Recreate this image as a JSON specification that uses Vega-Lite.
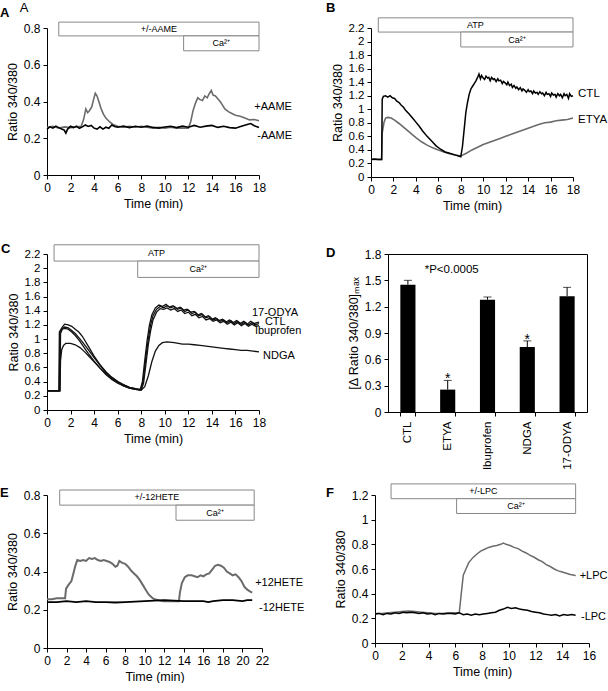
{
"$schema": "https://vega.github.io/schema/vega-lite/v6.json",
"padding": {"left": 0, "top": 2, "right": 0, "bottom": 0},
"config": {
 "font": "Liberation Sans",
 "view": {"stroke": null},
 "axis": {"labelFont": "Liberation Sans", "labelFontSize": 12, "titleFont": "Liberation Sans", "titleFontSize": 12.5, "titleFontWeight": "normal", "labelColor": "#000", "titleColor": "#000", "domainColor": "#000", "tickColor": "#000", "grid": false, "tickSize": 4, "labelPadding": 3, "titlePadding": 4, "labelFlush": false, "labelOverlap": false},
 "title": {"font": "Liberation Sans", "fontSize": 13, "anchor": "start", "frame": "group", "color": "#000"},
 "text": {"font": "Liberation Sans", "color": "#000"}
},
"datasets": {
 "A_box": [{"t":1,"t2":18,"v":0.832,"v2":0.757},{"t":11.6,"t2":18,"v":0.757,"v2":0.676}],
 "A_boxtxt": [{"t":9.5,"v":0.795,"txt":"+/-AAME"},{"t":14.8,"v":0.716,"txt":"Ca²⁺"}],
 "A_lab": [{"t":17.6,"v":0.37,"lab":"+AAME"},{"t":17.85,"v":0.21,"lab":"-AAME"}],
 "A_sub": [{"t":0,"v":0.8,"lab":"A"}],
 "A_minus": [{"t":0,"v":0.25},{"t":0.25,"v":0.262},{"t":0.5,"v":0.255},{"t":0.75,"v":0.266},{"t":1,"v":0.258},{"t":1.25,"v":0.25},{"t":1.45,"v":0.245},{"t":1.6,"v":0.228},{"t":1.75,"v":0.25},{"t":2,"v":0.265},{"t":2.25,"v":0.258},{"t":2.5,"v":0.266},{"t":2.75,"v":0.254},{"t":3,"v":0.262},{"t":3.25,"v":0.272},{"t":3.5,"v":0.264},{"t":3.75,"v":0.27},{"t":4,"v":0.255},{"t":4.25,"v":0.25},{"t":4.5,"v":0.262},{"t":4.75,"v":0.25},{"t":5,"v":0.26},{"t":5.25,"v":0.254},{"t":5.5,"v":0.272},{"t":5.75,"v":0.264},{"t":6,"v":0.26},{"t":6.5,"v":0.266},{"t":7,"v":0.258},{"t":7.5,"v":0.265},{"t":8,"v":0.26},{"t":8.5,"v":0.266},{"t":9,"v":0.259},{"t":9.5,"v":0.255},{"t":10,"v":0.261},{"t":10.5,"v":0.265},{"t":11,"v":0.258},{"t":11.5,"v":0.266},{"t":12,"v":0.26},{"t":12.5,"v":0.27},{"t":13,"v":0.26},{"t":13.5,"v":0.266},{"t":14,"v":0.27},{"t":14.5,"v":0.259},{"t":15,"v":0.265},{"t":15.5,"v":0.258},{"t":16,"v":0.255},{"t":16.5,"v":0.265},{"t":17,"v":0.275},{"t":17.3,"v":0.28},{"t":17.6,"v":0.268},{"t":18,"v":0.258}],
 "A_plus": [{"t":0,"v":0.26},{"t":0.5,"v":0.265},{"t":1,"v":0.255},{"t":1.5,"v":0.262},{"t":2,"v":0.258},{"t":2.5,"v":0.262},{"t":2.9,"v":0.265},{"t":3.1,"v":0.3},{"t":3.3,"v":0.36},{"t":3.45,"v":0.34},{"t":3.6,"v":0.35},{"t":3.8,"v":0.37},{"t":3.95,"v":0.41},{"t":4.1,"v":0.445},{"t":4.25,"v":0.43},{"t":4.4,"v":0.4},{"t":4.6,"v":0.36},{"t":4.8,"v":0.33},{"t":5,"v":0.31},{"t":5.3,"v":0.29},{"t":5.6,"v":0.275},{"t":6,"v":0.265},{"t":6.5,"v":0.26},{"t":7,"v":0.265},{"t":7.5,"v":0.26},{"t":8,"v":0.265},{"t":8.5,"v":0.26},{"t":9,"v":0.255},{"t":9.5,"v":0.26},{"t":10,"v":0.255},{"t":10.5,"v":0.26},{"t":11,"v":0.255},{"t":11.5,"v":0.256},{"t":12,"v":0.255},{"t":12.2,"v":0.29},{"t":12.4,"v":0.35},{"t":12.6,"v":0.39},{"t":12.8,"v":0.42},{"t":13,"v":0.41},{"t":13.2,"v":0.405},{"t":13.4,"v":0.43},{"t":13.6,"v":0.42},{"t":13.8,"v":0.445},{"t":13.95,"v":0.46},{"t":14.1,"v":0.435},{"t":14.3,"v":0.43},{"t":14.5,"v":0.415},{"t":14.7,"v":0.4},{"t":14.9,"v":0.38},{"t":15.1,"v":0.36},{"t":15.4,"v":0.345},{"t":15.7,"v":0.335},{"t":16,"v":0.325},{"t":16.4,"v":0.32},{"t":16.8,"v":0.31},{"t":17.2,"v":0.3},{"t":17.6,"v":0.302},{"t":18,"v":0.295}],
 "B_box": [{"t":0.65,"t2":18,"v":2.35,"v2":2.14},{"t":8,"t2":18,"v":2.14,"v2":1.92}],
 "B_boxtxt": [{"t":9.3,"v":2.245,"txt":"ATP"},{"t":13,"v":2.03,"txt":"Ca²⁺"}],
 "B_lab": [{"t":18.45,"v":1.23,"lab":"CTL"},{"t":18.45,"v":0.84,"lab":"ETYA"}],
 "B_ctl": [{"t":0,"v":0.26},{"t":0.3,"v":0.265},{"t":0.6,"v":0.26},{"t":0.95,"v":0.26},{"t":1.0,"v":1.15},{"t":1.1,"v":1.19},{"t":1.3,"v":1.2},{"t":1.5,"v":1.18},{"t":1.7,"v":1.2},{"t":1.9,"v":1.17},{"t":2.1,"v":1.16},{"t":2.3,"v":1.12},{"t":2.5,"v":1.1},{"t":2.7,"v":1.06},{"t":2.9,"v":1.03},{"t":3.1,"v":0.98},{"t":3.4,"v":0.93},{"t":3.7,"v":0.87},{"t":4,"v":0.81},{"t":4.3,"v":0.75},{"t":4.6,"v":0.68},{"t":5,"v":0.6},{"t":5.4,"v":0.53},{"t":5.8,"v":0.46},{"t":6.2,"v":0.41},{"t":6.6,"v":0.37},{"t":7,"v":0.35},{"t":7.4,"v":0.33},{"t":7.8,"v":0.31},{"t":8.0,"v":0.3},{"t":8.15,"v":0.45},{"t":8.3,"v":0.7},{"t":8.45,"v":0.95},{"t":8.6,"v":1.1},{"t":8.75,"v":1.22},{"t":8.9,"v":1.3},{"t":9.05,"v":1.34},{"t":9.2,"v":1.38},{"t":9.35,"v":1.42},{"t":9.5,"v":1.47},{"t":9.62,"v":1.52},{"t":9.75,"v":1.45},{"t":9.85,"v":1.5},{"t":10.0,"v":1.46},{"t":10.12,"v":1.44},{"t":10.25,"v":1.49},{"t":10.4,"v":1.46},{"t":10.5,"v":1.47},{"t":10.62,"v":1.42},{"t":10.75,"v":1.47},{"t":10.9,"v":1.44},{"t":11.0,"v":1.45},{"t":11.15,"v":1.41},{"t":11.3,"v":1.45},{"t":11.4,"v":1.42},{"t":11.55,"v":1.43},{"t":11.7,"v":1.38},{"t":11.8,"v":1.41},{"t":11.95,"v":1.39},{"t":12.1,"v":1.36},{"t":12.2,"v":1.4},{"t":12.35,"v":1.35},{"t":12.5,"v":1.37},{"t":12.6,"v":1.32},{"t":12.75,"v":1.35},{"t":12.9,"v":1.31},{"t":13.0,"v":1.33},{"t":13.15,"v":1.29},{"t":13.3,"v":1.32},{"t":13.45,"v":1.27},{"t":13.55,"v":1.3},{"t":13.7,"v":1.28},{"t":13.85,"v":1.25},{"t":14.0,"v":1.29},{"t":14.1,"v":1.26},{"t":14.25,"v":1.27},{"t":14.4,"v":1.23},{"t":14.5,"v":1.27},{"t":14.65,"v":1.24},{"t":14.8,"v":1.25},{"t":14.9,"v":1.22},{"t":15.05,"v":1.26},{"t":15.2,"v":1.23},{"t":15.3,"v":1.24},{"t":15.45,"v":1.2},{"t":15.6,"v":1.25},{"t":15.7,"v":1.22},{"t":15.85,"v":1.23},{"t":16.0,"v":1.19},{"t":16.1,"v":1.24},{"t":16.25,"v":1.21},{"t":16.4,"v":1.22},{"t":16.5,"v":1.18},{"t":16.65,"v":1.23},{"t":16.8,"v":1.2},{"t":16.9,"v":1.22},{"t":17.05,"v":1.17},{"t":17.2,"v":1.23},{"t":17.3,"v":1.2},{"t":17.45,"v":1.22},{"t":17.6,"v":1.16},{"t":17.7,"v":1.23},{"t":17.85,"v":1.19},{"t":18,"v":1.2}],
 "B_etya": [{"t":0,"v":0.26},{"t":0.5,"v":0.26},{"t":0.95,"v":0.26},{"t":1.0,"v":0.65},{"t":1.15,"v":0.8},{"t":1.3,"v":0.87},{"t":1.5,"v":0.88},{"t":1.8,"v":0.87},{"t":2.1,"v":0.84},{"t":2.5,"v":0.79},{"t":3,"v":0.72},{"t":3.5,"v":0.65},{"t":4,"v":0.58},{"t":4.5,"v":0.52},{"t":5,"v":0.47},{"t":5.5,"v":0.43},{"t":6,"v":0.4},{"t":6.5,"v":0.37},{"t":7,"v":0.345},{"t":7.5,"v":0.325},{"t":8,"v":0.31},{"t":8.5,"v":0.35},{"t":9,"v":0.4},{"t":9.5,"v":0.44},{"t":10,"v":0.48},{"t":10.5,"v":0.51},{"t":11,"v":0.54},{"t":11.5,"v":0.57},{"t":12,"v":0.6},{"t":12.5,"v":0.63},{"t":13,"v":0.66},{"t":13.5,"v":0.69},{"t":14,"v":0.72},{"t":14.5,"v":0.75},{"t":15,"v":0.78},{"t":15.5,"v":0.8},{"t":16,"v":0.81},{"t":16.5,"v":0.83},{"t":17,"v":0.84},{"t":17.5,"v":0.85},{"t":18,"v":0.87}],
 "C_box": [{"t":0.6,"t2":18,"v":2.33,"v2":2.1},{"t":7.7,"t2":18,"v":2.1,"v2":1.87}],
 "C_boxtxt": [{"t":9.3,"v":2.215,"txt":"ATP"},{"t":12.85,"v":1.985,"txt":"Ca²⁺"}],
 "C_lab": [{"t":17.4,"v":1.37,"lab":"17-ODYA"},{"t":18.5,"v":1.24,"lab":"CTL"},{"t":17.65,"v":1.11,"lab":"Ibuprofen"},{"t":18.35,"v":0.76,"lab":"NDGA"}],
 "C_lines": [
  {"s":"CTL","t":0,"v":0.27},{"s":"CTL","t":0.5,"v":0.27},{"s":"CTL","t":1.05,"v":0.27},{"s":"CTL","t":1.1,"v":1.1},{"s":"CTL","t":1.3,"v":1.15},{"s":"CTL","t":1.5,"v":1.17},{"s":"CTL","t":1.8,"v":1.16},{"s":"CTL","t":2.1,"v":1.12},{"s":"CTL","t":2.4,"v":1.08},{"s":"CTL","t":2.7,"v":1.02},{"s":"CTL","t":3,"v":0.96},{"s":"CTL","t":3.5,"v":0.85},{"s":"CTL","t":4,"v":0.74},{"s":"CTL","t":4.5,"v":0.63},{"s":"CTL","t":5,"v":0.53},{"s":"CTL","t":5.5,"v":0.46},{"s":"CTL","t":6,"v":0.4},{"s":"CTL","t":6.5,"v":0.36},{"s":"CTL","t":7,"v":0.32},{"s":"CTL","t":7.5,"v":0.3},{"s":"CTL","t":8,"v":0.29},{"s":"CTL","t":8.2,"v":0.45},{"s":"CTL","t":8.4,"v":0.75},{"s":"CTL","t":8.6,"v":1.0},{"s":"CTL","t":8.8,"v":1.2},{"s":"CTL","t":9,"v":1.33},{"s":"CTL","t":9.3,"v":1.42},{"s":"CTL","t":9.6,"v":1.46},{"s":"CTL","t":9.9,"v":1.44},{"s":"CTL","t":10.2,"v":1.47},{"s":"CTL","t":10.5,"v":1.44},{"s":"CTL","t":10.8,"v":1.46},{"s":"CTL","t":11.1,"v":1.42},{"s":"CTL","t":11.4,"v":1.44},{"s":"CTL","t":11.7,"v":1.39},{"s":"CTL","t":12,"v":1.41},{"s":"CTL","t":12.3,"v":1.36},{"s":"CTL","t":12.6,"v":1.38},{"s":"CTL","t":12.9,"v":1.33},{"s":"CTL","t":13.2,"v":1.35},{"s":"CTL","t":13.5,"v":1.3},{"s":"CTL","t":13.8,"v":1.32},{"s":"CTL","t":14.1,"v":1.27},{"s":"CTL","t":14.4,"v":1.29},{"s":"CTL","t":14.7,"v":1.25},{"s":"CTL","t":15,"v":1.27},{"s":"CTL","t":15.3,"v":1.23},{"s":"CTL","t":15.6,"v":1.26},{"s":"CTL","t":15.9,"v":1.22},{"s":"CTL","t":16.2,"v":1.25},{"s":"CTL","t":16.5,"v":1.21},{"s":"CTL","t":16.8,"v":1.24},{"s":"CTL","t":17.1,"v":1.2},{"s":"CTL","t":17.4,"v":1.23},{"s":"CTL","t":17.7,"v":1.2},{"s":"CTL","t":18,"v":1.22},
  {"s":"17-ODYA","t":0,"v":0.27},{"s":"17-ODYA","t":1.0,"v":0.27},{"s":"17-ODYA","t":1.05,"v":1.1},{"s":"17-ODYA","t":1.3,"v":1.17},{"s":"17-ODYA","t":1.5,"v":1.21},{"s":"17-ODYA","t":1.8,"v":1.2},{"s":"17-ODYA","t":2.1,"v":1.18},{"s":"17-ODYA","t":2.4,"v":1.14},{"s":"17-ODYA","t":2.7,"v":1.1},{"s":"17-ODYA","t":3,"v":1.04},{"s":"17-ODYA","t":3.5,"v":0.9},{"s":"17-ODYA","t":4,"v":0.76},{"s":"17-ODYA","t":4.5,"v":0.64},{"s":"17-ODYA","t":5,"v":0.54},{"s":"17-ODYA","t":5.5,"v":0.46},{"s":"17-ODYA","t":6,"v":0.4},{"s":"17-ODYA","t":6.5,"v":0.35},{"s":"17-ODYA","t":7,"v":0.32},{"s":"17-ODYA","t":7.5,"v":0.3},{"s":"17-ODYA","t":7.9,"v":0.28},{"s":"17-ODYA","t":8.1,"v":0.4},{"s":"17-ODYA","t":8.3,"v":0.7},{"s":"17-ODYA","t":8.5,"v":0.98},{"s":"17-ODYA","t":8.7,"v":1.2},{"s":"17-ODYA","t":8.9,"v":1.34},{"s":"17-ODYA","t":9.2,"v":1.44},{"s":"17-ODYA","t":9.5,"v":1.48},{"s":"17-ODYA","t":9.8,"v":1.46},{"s":"17-ODYA","t":10.1,"v":1.49},{"s":"17-ODYA","t":10.4,"v":1.45},{"s":"17-ODYA","t":10.7,"v":1.47},{"s":"17-ODYA","t":11,"v":1.43},{"s":"17-ODYA","t":11.3,"v":1.45},{"s":"17-ODYA","t":11.6,"v":1.41},{"s":"17-ODYA","t":11.9,"v":1.42},{"s":"17-ODYA","t":12.2,"v":1.38},{"s":"17-ODYA","t":12.5,"v":1.39},{"s":"17-ODYA","t":12.8,"v":1.34},{"s":"17-ODYA","t":13.1,"v":1.36},{"s":"17-ODYA","t":13.4,"v":1.31},{"s":"17-ODYA","t":13.7,"v":1.33},{"s":"17-ODYA","t":14,"v":1.28},{"s":"17-ODYA","t":14.3,"v":1.3},{"s":"17-ODYA","t":14.6,"v":1.26},{"s":"17-ODYA","t":14.9,"v":1.28},{"s":"17-ODYA","t":15.2,"v":1.24},{"s":"17-ODYA","t":15.5,"v":1.27},{"s":"17-ODYA","t":15.8,"v":1.23},{"s":"17-ODYA","t":16.1,"v":1.26},{"s":"17-ODYA","t":16.4,"v":1.22},{"s":"17-ODYA","t":16.7,"v":1.25},{"s":"17-ODYA","t":17,"v":1.21},{"s":"17-ODYA","t":17.3,"v":1.25},{"s":"17-ODYA","t":17.6,"v":1.22},{"s":"17-ODYA","t":18,"v":1.24},
  {"s":"Ibuprofen","t":0,"v":0.27},{"s":"Ibuprofen","t":1.1,"v":0.27},{"s":"Ibuprofen","t":1.15,"v":1.08},{"s":"Ibuprofen","t":1.3,"v":1.14},{"s":"Ibuprofen","t":1.5,"v":1.15},{"s":"Ibuprofen","t":1.8,"v":1.14},{"s":"Ibuprofen","t":2.1,"v":1.1},{"s":"Ibuprofen","t":2.4,"v":1.05},{"s":"Ibuprofen","t":2.7,"v":0.99},{"s":"Ibuprofen","t":3,"v":0.92},{"s":"Ibuprofen","t":3.5,"v":0.8},{"s":"Ibuprofen","t":4,"v":0.69},{"s":"Ibuprofen","t":4.5,"v":0.59},{"s":"Ibuprofen","t":5,"v":0.5},{"s":"Ibuprofen","t":5.5,"v":0.43},{"s":"Ibuprofen","t":6,"v":0.38},{"s":"Ibuprofen","t":6.5,"v":0.34},{"s":"Ibuprofen","t":7,"v":0.31},{"s":"Ibuprofen","t":7.5,"v":0.29},{"s":"Ibuprofen","t":8,"v":0.28},{"s":"Ibuprofen","t":8.2,"v":0.38},{"s":"Ibuprofen","t":8.4,"v":0.65},{"s":"Ibuprofen","t":8.6,"v":0.92},{"s":"Ibuprofen","t":8.8,"v":1.12},{"s":"Ibuprofen","t":9,"v":1.27},{"s":"Ibuprofen","t":9.3,"v":1.38},{"s":"Ibuprofen","t":9.6,"v":1.43},{"s":"Ibuprofen","t":9.9,"v":1.42},{"s":"Ibuprofen","t":10.2,"v":1.44},{"s":"Ibuprofen","t":10.5,"v":1.41},{"s":"Ibuprofen","t":10.8,"v":1.43},{"s":"Ibuprofen","t":11.1,"v":1.39},{"s":"Ibuprofen","t":11.4,"v":1.41},{"s":"Ibuprofen","t":11.7,"v":1.36},{"s":"Ibuprofen","t":12,"v":1.38},{"s":"Ibuprofen","t":12.3,"v":1.33},{"s":"Ibuprofen","t":12.6,"v":1.35},{"s":"Ibuprofen","t":12.9,"v":1.3},{"s":"Ibuprofen","t":13.2,"v":1.32},{"s":"Ibuprofen","t":13.5,"v":1.27},{"s":"Ibuprofen","t":13.8,"v":1.29},{"s":"Ibuprofen","t":14.1,"v":1.25},{"s":"Ibuprofen","t":14.4,"v":1.27},{"s":"Ibuprofen","t":14.7,"v":1.23},{"s":"Ibuprofen","t":15,"v":1.25},{"s":"Ibuprofen","t":15.3,"v":1.21},{"s":"Ibuprofen","t":15.6,"v":1.24},{"s":"Ibuprofen","t":15.9,"v":1.2},{"s":"Ibuprofen","t":16.2,"v":1.23},{"s":"Ibuprofen","t":16.5,"v":1.19},{"s":"Ibuprofen","t":16.8,"v":1.22},{"s":"Ibuprofen","t":17.1,"v":1.18},{"s":"Ibuprofen","t":17.4,"v":1.21},{"s":"Ibuprofen","t":17.7,"v":1.18},{"s":"Ibuprofen","t":18,"v":1.19},
  {"s":"NDGA","t":0,"v":0.27},{"s":"NDGA","t":1.1,"v":0.27},{"s":"NDGA","t":1.15,"v":0.7},{"s":"NDGA","t":1.25,"v":0.85},{"s":"NDGA","t":1.4,"v":0.91},{"s":"NDGA","t":1.6,"v":0.94},{"s":"NDGA","t":2,"v":0.94},{"s":"NDGA","t":2.4,"v":0.92},{"s":"NDGA","t":2.8,"v":0.88},{"s":"NDGA","t":3.2,"v":0.82},{"s":"NDGA","t":3.6,"v":0.75},{"s":"NDGA","t":4,"v":0.68},{"s":"NDGA","t":4.5,"v":0.59},{"s":"NDGA","t":5,"v":0.51},{"s":"NDGA","t":5.5,"v":0.44},{"s":"NDGA","t":6,"v":0.39},{"s":"NDGA","t":6.5,"v":0.34},{"s":"NDGA","t":7,"v":0.31},{"s":"NDGA","t":7.5,"v":0.29},{"s":"NDGA","t":8,"v":0.28},{"s":"NDGA","t":8.3,"v":0.33},{"s":"NDGA","t":8.6,"v":0.48},{"s":"NDGA","t":8.9,"v":0.68},{"s":"NDGA","t":9.2,"v":0.83},{"s":"NDGA","t":9.5,"v":0.91},{"s":"NDGA","t":9.8,"v":0.95},{"s":"NDGA","t":10.2,"v":0.96},{"s":"NDGA","t":10.8,"v":0.95},{"s":"NDGA","t":11.5,"v":0.93},{"s":"NDGA","t":12,"v":0.93},{"s":"NDGA","t":12.5,"v":0.92},{"s":"NDGA","t":13,"v":0.91},{"s":"NDGA","t":13.5,"v":0.9},{"s":"NDGA","t":14,"v":0.89},{"s":"NDGA","t":14.5,"v":0.88},{"s":"NDGA","t":15,"v":0.87},{"s":"NDGA","t":15.5,"v":0.86},{"s":"NDGA","t":16,"v":0.85},{"s":"NDGA","t":16.5,"v":0.84},{"s":"NDGA","t":17,"v":0.84},{"s":"NDGA","t":17.5,"v":0.83},{"s":"NDGA","t":18,"v":0.82}
 ],
 "D": [{"g":"CTL","m":1.45,"hi":1.5,"sig":""},{"g":"ETYA","m":0.255,"hi":0.36,"sig":"*"},{"g":"Ibuprofen","m":1.28,"hi":1.31,"sig":""},{"g":"NDGA","m":0.74,"hi":0.81,"sig":"*"},{"g":"17-ODYA","m":1.32,"hi":1.42,"sig":""}],
 "D_note": [{"g":"ETYA","v":1.62,"txt":"*P<0.0005"}],
 "E_box": [{"t":1.3,"t2":21.2,"v":0.826,"v2":0.747},{"t":13.2,"t2":21.2,"v":0.747,"v2":0.668}],
 "E_boxtxt": [{"t":11.25,"v":0.787,"txt":"+/-12HETE"},{"t":17.2,"v":0.708,"txt":"Ca²⁺"}],
 "E_lab": [{"t":21.3,"v":0.34,"lab":"+12HETE"},{"t":21.7,"v":0.21,"lab":"-12HETE"}],
 "E_minus": [{"t":0,"v":0.24},{"t":1,"v":0.24},{"t":2,"v":0.245},{"t":3,"v":0.24},{"t":4,"v":0.245},{"t":5,"v":0.24},{"t":6,"v":0.24},{"t":7,"v":0.238},{"t":8,"v":0.24},{"t":9,"v":0.242},{"t":10,"v":0.245},{"t":11,"v":0.248},{"t":12,"v":0.25},{"t":13,"v":0.248},{"t":14,"v":0.245},{"t":15,"v":0.245},{"t":16,"v":0.245},{"t":16.5,"v":0.24},{"t":17,"v":0.245},{"t":18,"v":0.25},{"t":19,"v":0.25},{"t":20,"v":0.245},{"t":20.5,"v":0.25},{"t":21,"v":0.25}],
 "E_plus": [{"t":0,"v":0.255},{"t":0.5,"v":0.255},{"t":1,"v":0.26},{"t":1.5,"v":0.26},{"t":1.85,"v":0.26},{"t":1.95,"v":0.31},{"t":2.2,"v":0.33},{"t":2.5,"v":0.35},{"t":2.7,"v":0.39},{"t":2.9,"v":0.43},{"t":3.1,"v":0.46},{"t":3.4,"v":0.455},{"t":3.7,"v":0.46},{"t":4,"v":0.455},{"t":4.3,"v":0.47},{"t":4.6,"v":0.465},{"t":4.9,"v":0.47},{"t":5.2,"v":0.46},{"t":5.5,"v":0.455},{"t":5.8,"v":0.46},{"t":6.1,"v":0.455},{"t":6.4,"v":0.45},{"t":6.7,"v":0.44},{"t":7,"v":0.425},{"t":7.2,"v":0.43},{"t":7.4,"v":0.455},{"t":7.7,"v":0.445},{"t":8,"v":0.44},{"t":8.3,"v":0.425},{"t":8.6,"v":0.405},{"t":8.9,"v":0.39},{"t":9.2,"v":0.375},{"t":9.5,"v":0.355},{"t":9.8,"v":0.33},{"t":10.1,"v":0.305},{"t":10.4,"v":0.28},{"t":10.7,"v":0.265},{"t":11,"v":0.255},{"t":11.5,"v":0.248},{"t":12,"v":0.245},{"t":12.5,"v":0.245},{"t":13,"v":0.245},{"t":13.5,"v":0.245},{"t":13.6,"v":0.29},{"t":13.8,"v":0.34},{"t":14.1,"v":0.37},{"t":14.4,"v":0.38},{"t":14.8,"v":0.38},{"t":15.1,"v":0.375},{"t":15.4,"v":0.37},{"t":15.7,"v":0.38},{"t":16,"v":0.375},{"t":16.3,"v":0.385},{"t":16.6,"v":0.39},{"t":16.9,"v":0.41},{"t":17.2,"v":0.43},{"t":17.5,"v":0.435},{"t":17.8,"v":0.43},{"t":18.1,"v":0.42},{"t":18.4,"v":0.4},{"t":18.7,"v":0.39},{"t":19,"v":0.38},{"t":19.3,"v":0.385},{"t":19.6,"v":0.37},{"t":19.9,"v":0.35},{"t":20.2,"v":0.32},{"t":20.5,"v":0.305},{"t":20.8,"v":0.295},{"t":21,"v":0.29}],
 "F_box": [{"t":1.2,"t2":15,"v":1.29,"v2":1.17},{"t":6.1,"t2":15,"v":1.17,"v2":1.05}],
 "F_boxtxt": [{"t":8.1,"v":1.23,"txt":"+/-LPC"},{"t":10.55,"v":1.11,"txt":"Ca²⁺"}],
 "F_lab": [{"t":15.3,"v":0.54,"lab":"+LPC"},{"t":15.4,"v":0.21,"lab":"-LPC"}],
 "F_minus": [{"t":0,"v":0.235},{"t":0.3,"v":0.24},{"t":0.6,"v":0.23},{"t":0.9,"v":0.24},{"t":1.2,"v":0.235},{"t":1.5,"v":0.245},{"t":1.8,"v":0.24},{"t":2.1,"v":0.25},{"t":2.4,"v":0.245},{"t":2.7,"v":0.25},{"t":3,"v":0.245},{"t":3.3,"v":0.24},{"t":3.6,"v":0.245},{"t":3.9,"v":0.235},{"t":4.2,"v":0.24},{"t":4.5,"v":0.23},{"t":4.8,"v":0.24},{"t":5.1,"v":0.235},{"t":5.4,"v":0.24},{"t":5.7,"v":0.24},{"t":6,"v":0.235},{"t":6.3,"v":0.245},{"t":6.6,"v":0.23},{"t":6.9,"v":0.235},{"t":7.2,"v":0.225},{"t":7.5,"v":0.235},{"t":7.8,"v":0.23},{"t":8.1,"v":0.235},{"t":8.4,"v":0.24},{"t":8.7,"v":0.245},{"t":9,"v":0.25},{"t":9.3,"v":0.265},{"t":9.6,"v":0.275},{"t":9.9,"v":0.29},{"t":10.2,"v":0.28},{"t":10.5,"v":0.285},{"t":10.8,"v":0.275},{"t":11.1,"v":0.27},{"t":11.4,"v":0.265},{"t":11.7,"v":0.255},{"t":12,"v":0.25},{"t":12.3,"v":0.245},{"t":12.6,"v":0.235},{"t":12.9,"v":0.23},{"t":13.2,"v":0.225},{"t":13.5,"v":0.23},{"t":13.8,"v":0.22},{"t":14.1,"v":0.23},{"t":14.4,"v":0.225},{"t":14.7,"v":0.23},{"t":15,"v":0.225}],
 "F_plus": [{"t":0,"v":0.24},{"t":0.5,"v":0.24},{"t":1,"v":0.245},{"t":1.5,"v":0.25},{"t":2,"v":0.255},{"t":2.5,"v":0.26},{"t":3,"v":0.255},{"t":3.5,"v":0.25},{"t":4,"v":0.245},{"t":4.5,"v":0.24},{"t":5,"v":0.24},{"t":5.5,"v":0.245},{"t":6,"v":0.245},{"t":6.3,"v":0.245},{"t":6.45,"v":0.4},{"t":6.6,"v":0.55},{"t":6.8,"v":0.6},{"t":7,"v":0.65},{"t":7.3,"v":0.69},{"t":7.6,"v":0.72},{"t":7.9,"v":0.745},{"t":8.2,"v":0.76},{"t":8.5,"v":0.775},{"t":8.8,"v":0.785},{"t":9.1,"v":0.79},{"t":9.4,"v":0.8},{"t":9.6,"v":0.81},{"t":9.8,"v":0.8},{"t":10.1,"v":0.79},{"t":10.4,"v":0.775},{"t":10.7,"v":0.765},{"t":11,"v":0.745},{"t":11.3,"v":0.73},{"t":11.6,"v":0.71},{"t":11.9,"v":0.695},{"t":12.2,"v":0.675},{"t":12.5,"v":0.66},{"t":12.8,"v":0.635},{"t":13.1,"v":0.62},{"t":13.4,"v":0.6},{"t":13.7,"v":0.585},{"t":14,"v":0.575},{"t":14.3,"v":0.565},{"t":14.6,"v":0.555},{"t":14.9,"v":0.55},{"t":15,"v":0.545}]
},
"vconcat": [
 {"vconcat": [
  {"hconcat": [
   {"width": 212, "height": 147,
    "title": {"text": "A", "dx": -47, "offset": -18, "fontWeight": "bold"},
    "encoding": {
     "x": {"field": "t", "type": "quantitative", "scale": {"domain": [0,18], "nice": false, "zero": false}, "axis": {"values": [0,2,4,6,8,10,12,14,16,18], "title": "Time (min)"}},
     "y": {"field": "v", "type": "quantitative", "scale": {"domain": [0,0.8], "nice": false}, "axis": {"values": [0,0.2,0.4,0.6,0.8], "format": "~g", "title": "Ratio 340/380"}}
    },
    "layer": [
     {"data": {"name": "A_box"}, "mark": {"type": "rect", "fill": "#fff", "stroke": "#888", "strokeWidth": 1}, "encoding": {"x2": {"field": "t2"}, "y2": {"field": "v2"}}},
     {"data": {"name": "A_boxtxt"}, "mark": {"type": "text", "fontSize": 9}, "encoding": {"text": {"field": "txt"}}},
     {"data": {"name": "A_plus"}, "mark": {"type": "line", "color": "#6b6b6b", "strokeWidth": 1.6}, "encoding": {}},
     {"data": {"name": "A_minus"}, "mark": {"type": "line", "color": "#000", "strokeWidth": 1.6}, "encoding": {}},
     {"data": {"name": "A_lab"}, "mark": {"type": "text", "align": "left", "fontSize": 11}, "encoding": {"text": {"field": "lab"}}},
     {"data": {"name": "A_sub"}, "mark": {"type": "text", "fontSize": 13, "dx": -23, "dy": -20}, "encoding": {"text": {"field": "lab"}}}
    ]},
   {"width": 202, "height": 149,
    "title": {"text": "B", "dx": -45, "offset": 2, "fontWeight": "bold"},
    "encoding": {
     "x": {"field": "t", "type": "quantitative", "scale": {"domain": [0,18], "nice": false, "zero": false}, "axis": {"values": [0,2,4,6,8,10,12,14,16,18], "title": "Time (min)"}},
     "y": {"field": "v", "type": "quantitative", "scale": {"domain": [0,2.2], "nice": false}, "axis": {"values": [0,0.2,0.4,0.6,0.8,1,1.2,1.4,1.6,1.8,2,2.2], "format": "~g", "title": "Ratio 340/380", "labelFontSize": 11.5}}
    },
    "layer": [
     {"data": {"name": "B_box"}, "mark": {"type": "rect", "fill": "#fff", "stroke": "#888", "strokeWidth": 1}, "encoding": {"x2": {"field": "t2"}, "y2": {"field": "v2"}}},
     {"data": {"name": "B_boxtxt"}, "mark": {"type": "text", "fontSize": 9}, "encoding": {"text": {"field": "txt"}}},
     {"data": {"name": "B_etya"}, "mark": {"type": "line", "color": "#6b6b6b", "strokeWidth": 1.6}, "encoding": {}},
     {"data": {"name": "B_ctl"}, "mark": {"type": "line", "color": "#000", "strokeWidth": 1.5}, "encoding": {}},
     {"data": {"name": "B_lab"}, "mark": {"type": "text", "align": "left", "fontSize": 11.5}, "encoding": {"text": {"field": "lab"}}}
    ]}
  ], "bounds": "flush", "spacing": 112},
  {"hconcat": [
   {"width": 212, "height": 156,
    "title": {"text": "C", "dx": -46, "offset": -12, "fontWeight": "bold"},
    "encoding": {
     "x": {"field": "t", "type": "quantitative", "scale": {"domain": [0,18], "nice": false, "zero": false}, "axis": {"values": [0,2,4,6,8,10,12,14,16,18], "title": "Time (min)"}},
     "y": {"field": "v", "type": "quantitative", "scale": {"domain": [0,2.2], "nice": false}, "axis": {"values": [0,0.2,0.4,0.6,0.8,1,1.2,1.4,1.6,1.8,2,2.2], "format": "~g", "title": "Ratio 340/380", "labelFontSize": 11.5}}
    },
    "layer": [
     {"data": {"name": "C_box"}, "mark": {"type": "rect", "fill": "#fff", "stroke": "#888", "strokeWidth": 1}, "encoding": {"x2": {"field": "t2"}, "y2": {"field": "v2"}}},
     {"data": {"name": "C_boxtxt"}, "mark": {"type": "text", "fontSize": 9}, "encoding": {"text": {"field": "txt"}}},
     {"data": {"name": "C_lines"}, "mark": {"type": "line", "color": "#111", "strokeWidth": 1.3}, "encoding": {"detail": {"field": "s"}}},
     {"data": {"name": "C_lab"}, "mark": {"type": "text", "align": "left", "fontSize": 11}, "encoding": {"text": {"field": "lab"}}}
    ]},
   {"width": 199, "height": 158,
    "view": {"stroke": "#000", "strokeWidth": 1},
    "title": {"text": "D", "dx": -62, "offset": -12, "fontWeight": "bold"},
    "encoding": {
     "x": {"field": "g", "type": "nominal", "sort": null, "scale": {"paddingInner": 0.62, "paddingOuter": 0.31}, "axis": {"title": null, "labelAngle": -90, "tickBand": "extent", "labelFontSize": 11.5, "labelPadding": 5}}
    },
    "layer": [
     {"data": {"name": "D"}, "mark": {"type": "bar", "color": "#000"},
      "encoding": {"y": {"field": "m", "type": "quantitative", "scale": {"domain": [0,1.8], "nice": false}, "axis": {"values": [0,0.3,0.6,0.9,1.2,1.5,1.8], "format": "~g", "title": "[Δ Ratio 340/380]ₘₐₓ"}}}},
     {"data": {"name": "D"}, "mark": {"type": "rule", "color": "#000", "strokeWidth": 1},
      "encoding": {"y": {"field": "m", "type": "quantitative", "scale": {"domain": [0,1.8], "nice": false}, "axis": {"values": [0,0.3,0.6,0.9,1.2,1.5,1.8], "format": "~g", "title": "[Δ Ratio 340/380]ₘₐₓ"}}, "y2": {"field": "hi"}}},
     {"data": {"name": "D"}, "mark": {"type": "tick", "color": "#000", "thickness": 1, "size": 8},
      "encoding": {"y": {"field": "hi", "type": "quantitative", "scale": {"domain": [0,1.8], "nice": false}, "axis": {"values": [0,0.3,0.6,0.9,1.2,1.5,1.8], "format": "~g", "title": "[Δ Ratio 340/380]ₘₐₓ"}}}},
     {"data": {"name": "D"}, "mark": {"type": "text", "fontSize": 14, "baseline": "alphabetic", "dy": 3},
      "encoding": {"y": {"field": "hi", "type": "quantitative", "scale": {"domain": [0,1.8], "nice": false}, "axis": {"values": [0,0.3,0.6,0.9,1.2,1.5,1.8], "format": "~g", "title": "[Δ Ratio 340/380]ₘₐₓ"}}, "text": {"field": "sig"}}},
     {"data": {"name": "D_note"}, "mark": {"type": "text", "fontSize": 11.5, "dx": 4},
      "encoding": {"y": {"field": "v", "type": "quantitative", "scale": {"domain": [0,1.8], "nice": false}, "axis": {"values": [0,0.3,0.6,0.9,1.2,1.5,1.8], "format": "~g", "title": "[Δ Ratio 340/380]ₘₐₓ"}}, "text": {"field": "txt"}}}
    ]}
  ], "bounds": "flush", "spacing": 129}
 ], "spacing": 31},
 {"hconcat": [
  {"width": 215, "height": 153,
   "title": {"text": "E", "dx": -47, "offset": -11, "fontWeight": "bold"},
   "encoding": {
    "x": {"field": "t", "type": "quantitative", "scale": {"domain": [0,22], "nice": false, "zero": false}, "axis": {"values": [0,2,4,6,8,10,12,14,16,18,20,22], "title": "Time (min)"}},
    "y": {"field": "v", "type": "quantitative", "scale": {"domain": [0,0.8], "nice": false}, "axis": {"values": [0,0.2,0.4,0.6,0.8], "format": "~g", "title": "Ratio 340/380"}}
   },
   "layer": [
    {"data": {"name": "E_box"}, "mark": {"type": "rect", "fill": "#fff", "stroke": "#888", "strokeWidth": 1}, "encoding": {"x2": {"field": "t2"}, "y2": {"field": "v2"}}},
    {"data": {"name": "E_boxtxt"}, "mark": {"type": "text", "fontSize": 9}, "encoding": {"text": {"field": "txt"}}},
    {"data": {"name": "E_plus"}, "mark": {"type": "line", "color": "#6b6b6b", "strokeWidth": 2}, "encoding": {}},
    {"data": {"name": "E_minus"}, "mark": {"type": "line", "color": "#000", "strokeWidth": 1.8}, "encoding": {}},
    {"data": {"name": "E_lab"}, "mark": {"type": "text", "align": "left", "fontSize": 11}, "encoding": {"text": {"field": "lab"}}}
   ]},
  {"width": 214, "height": 148,
   "title": {"text": "F", "dx": -49, "offset": -17, "fontWeight": "bold"},
   "encoding": {
    "x": {"field": "t", "type": "quantitative", "scale": {"domain": [0,16], "nice": false, "zero": false}, "axis": {"values": [0,2,4,6,8,10,12,14,16], "title": "Time (min)"}},
    "y": {"field": "v", "type": "quantitative", "scale": {"domain": [0,1.2], "nice": false}, "axis": {"values": [0,0.2,0.4,0.6,0.8,1,1.2], "format": "~g", "title": "Ratio 340/380"}}
   },
   "layer": [
    {"data": {"name": "F_box"}, "mark": {"type": "rect", "fill": "#fff", "stroke": "#888", "strokeWidth": 1}, "encoding": {"x2": {"field": "t2"}, "y2": {"field": "v2"}}},
    {"data": {"name": "F_boxtxt"}, "mark": {"type": "text", "fontSize": 9}, "encoding": {"text": {"field": "txt"}}},
    {"data": {"name": "F_plus"}, "mark": {"type": "line", "color": "#6b6b6b", "strokeWidth": 1.5}, "encoding": {}},
    {"data": {"name": "F_minus"}, "mark": {"type": "line", "color": "#000", "strokeWidth": 1.5}, "encoding": {}},
    {"data": {"name": "F_lab"}, "mark": {"type": "text", "align": "left", "fontSize": 11}, "encoding": {"text": {"field": "lab"}}}
   ]}
 ], "bounds": "flush", "spacing": 113}
],
"spacing": 12
}
